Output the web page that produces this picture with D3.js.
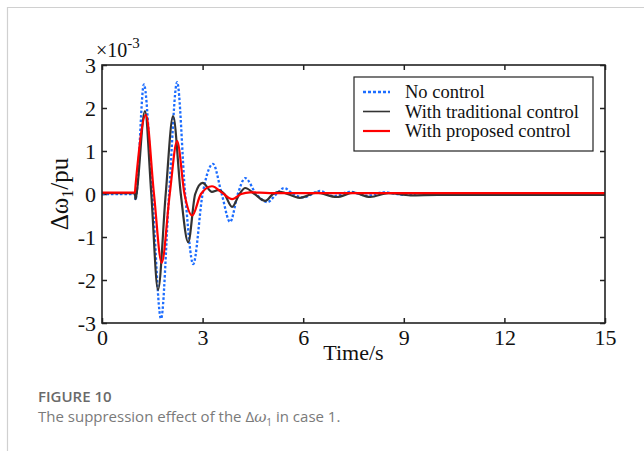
<!DOCTYPE html>
<html lang="en">
<head>
  <meta charset="UTF-8">
  <title>Figure 10</title>
  <script src="https://d3js.org/d3.v7.min.js"></script>
  <style>
    body { margin: 0; background: #fff; }
    .axis line { stroke: #222; stroke-width: 1.5; }
    .axis .domain { stroke: none; }
    .axis text { font-family: "Liberation Serif", serif; font-size: 22px; fill: #111; }
  </style>
</head>
<body>
  <svg id="chart" width="644" height="451"></svg>

  <script>
    // values are in units of 1e-3 pu
    const xTicks = [0, 3, 6, 9, 12, 15];
    const yTicks = [-3, -2, -1, 0, 1, 2, 3];
    const seriesNames = ["No control", "With traditional control", "With proposed control"];

    const noControl = [
      [0, 0], [0.98, 0], [1.0, -0.14], [1.03, 0], [1.25, 2.55], [1.5, 0], [1.76, -2.9],
      [2.0, 0], [2.24, 2.6], [2.48, 0], [2.72, -1.63], [3.0, 0], [3.31, 0.7], [3.57, 0],
      [3.82, -0.65], [4.05, 0], [4.27, 0.37], [4.6, 0], [4.93, -0.19], [5.2, 0], [5.43, 0.14],
      [5.7, 0], [6.0, -0.08], [6.5, 0.07], [6.9, -0.05], [7.4, 0.05], [7.9, -0.04], [8.4, 0.04],
      [9.0, -0.02], [9.5, 0.02], [10.5, -0.01], [11.3, 0.02], [12.0, -0.01], [12.8, 0.02],
      [13.5, -0.01], [14.2, 0.02], [15, 0]
    ];
    const traditional = [
      [0, 0.02], [0.98, 0.02], [1.0, -0.12], [1.03, 0], [1.28, 1.93], [1.47, 0], [1.67, -2.23],
      [1.9, 0], [2.12, 1.81], [2.35, 0], [2.57, -1.12], [2.78, 0], [3.0, 0.26], [3.28, 0.05],
      [3.46, 0.09], [3.65, 0], [3.88, -0.3], [4.1, 0], [4.27, 0.14], [4.55, 0], [4.87, -0.16],
      [5.1, 0], [5.3, 0.05], [5.9, -0.09], [6.4, 0.03], [7.0, -0.07], [7.5, 0.03], [8.0, -0.07],
      [8.54, 0.02], [9.2, -0.03], [10, -0.02], [15, -0.02]
    ];
    const proposed = [
      [0, 0.03], [0.98, 0.03], [1.0, 0.2], [1.31, 1.84], [1.55, 0], [1.78, -1.6], [2.02, 0],
      [2.24, 1.23], [2.46, 0], [2.69, -0.5], [2.95, 0], [3.28, 0.18], [3.6, 0.02], [3.88, -0.12],
      [4.15, 0], [4.42, 0.04], [5, 0.02], [15, 0.02]
    ];

    const svg = d3.select("#chart");
    const plotL = 102, plotR = 605, plotT = 65, plotB = 323;

    const xScale = d3.scaleLinear().domain([0, 15]).range([plotL, plotR]);
    const yScale = d3.scaleLinear().domain([-3, 3]).range([plotB, plotT]);

    // outer page frame (light grey)
    svg.append("path")
      .attr("d", "M7.5,451 L7.5,7.5 L644,7.5")
      .attr("fill", "none")
      .attr("stroke", "#d0d0d0")
      .attr("stroke-width", 1.2);

    svg.append("clipPath").attr("id", "plotClip")
      .append("rect")
      .attr("x", plotL).attr("y", plotT)
      .attr("width", plotR - plotL).attr("height", plotB - plotT);

    // axes, ticks point inward on all four sides
    svg.append("g").attr("class", "axis")
      .attr("transform", `translate(0,${plotB})`)
      .call(d3.axisBottom(xScale).tickValues(xTicks).tickSizeInner(-5).tickSizeOuter(0)
        .tickPadding(6).tickFormat(d => String(d)));
    svg.append("g").attr("class", "axis")
      .attr("transform", `translate(0,${plotT})`)
      .call(d3.axisTop(xScale).tickValues(xTicks).tickSizeInner(-5).tickSizeOuter(0).tickFormat(""));
    svg.append("g").attr("class", "axis")
      .attr("transform", `translate(${plotL},0)`)
      .call(d3.axisLeft(yScale).tickValues(yTicks).tickSizeInner(-5).tickSizeOuter(0)
        .tickPadding(6).tickFormat(d => String(d)));
    svg.append("g").attr("class", "axis")
      .attr("transform", `translate(${plotR},0)`)
      .call(d3.axisRight(yScale).tickValues(yTicks).tickSizeInner(-5).tickSizeOuter(0).tickFormat(""));

    // the lines
    const line = d3.line()
      .x(d => xScale(d[0]))
      .y(d => yScale(d[1]))
      .curve(d3.curveMonotoneX);

    const plot = svg.append("g").attr("clip-path", "url(#plotClip)");
    plot.append("path").datum(noControl)
      .attr("d", line).attr("fill", "none")
      .attr("stroke", "#1c6dff").attr("stroke-width", 2.3)
      .attr("stroke-dasharray", "2.5,2");
    plot.append("path").datum(traditional)
      .attr("d", line).attr("fill", "none")
      .attr("stroke", "#333").attr("stroke-width", 2.2);
    plot.append("path").datum(proposed)
      .attr("d", line).attr("fill", "none")
      .attr("stroke", "#f00").attr("stroke-width", 2.2);

    // plot frame
    svg.append("rect")
      .attr("x", plotL).attr("y", plotT)
      .attr("width", plotR - plotL).attr("height", plotB - plotT)
      .attr("fill", "none").attr("stroke", "#222").attr("stroke-width", 1.6);

    // exponent label
    const expo = svg.append("text")
      .attr("x", 96).attr("y", 57)
      .attr("font-family", "Liberation Serif").attr("font-size", 20).attr("fill", "#111");
    expo.append("tspan").text("\u00d710");
    expo.append("tspan").attr("dy", -9).attr("font-size", 15).text("-3");

    // axis titles
    svg.append("text")
      .attr("x", (plotL + plotR) / 2).attr("y", 360)
      .attr("text-anchor", "middle")
      .attr("font-family", "Liberation Serif").attr("font-size", 22).attr("fill", "#111")
      .text("Time/s");

    const ylab = svg.append("text")
      .attr("transform", `translate(68,${(plotT + plotB) / 2}) rotate(-90)`)
      .attr("text-anchor", "middle")
      .attr("font-family", "Liberation Serif").attr("font-size", 25).attr("fill", "#111");
    ylab.append("tspan").text("\u0394\u03c9");
    ylab.append("tspan").attr("dy", 5).attr("font-size", 16).text("1");
    ylab.append("tspan").attr("dy", -5).text("/pu");

    // legend
    const legend = svg.append("g");
    legend.append("rect")
      .attr("x", 354).attr("y", 77).attr("width", 239).attr("height", 74)
      .attr("fill", "#fff").attr("stroke", "#222").attr("stroke-width", 1.2);
    const legendStyles = [
      { color: "#1c6dff", dash: "3,2", width: 2.3 },
      { color: "#333", dash: null, width: 1.6 },
      { color: "#f00", dash: null, width: 2.2 }
    ];
    seriesNames.forEach((name, i) => {
      const yy = 92 + i * 19.5;
      legend.append("line")
        .attr("x1", 363).attr("x2", 390).attr("y1", yy).attr("y2", yy)
        .attr("stroke", legendStyles[i].color)
        .attr("stroke-width", legendStyles[i].width)
        .attr("stroke-dasharray", legendStyles[i].dash);
      legend.append("text")
        .attr("x", 405).attr("y", yy + 6)
        .attr("font-family", "Liberation Serif").attr("font-size", 18.5).attr("fill", "#111")
        .text(name);
    });

    // caption
    svg.append("text")
      .attr("x", 38).attr("y", 402)
      .attr("font-family", "Open Sans").attr("font-weight", 600)
      .attr("font-size", 15).attr("fill", "#6a6a6a")
      .text("FIGURE 10");
    const cap = svg.append("text")
      .attr("x", 38).attr("y", 422)
      .attr("font-family", "Open Sans").attr("font-size", 15).attr("fill", "#7a7a7a");
    cap.append("tspan").text("The suppression effect of the \u0394");
    cap.append("tspan").attr("font-style", "italic").attr("font-family", "DejaVu Serif").text("\u03c9");
    cap.append("tspan").attr("dy", 4).attr("font-size", 10).text("1");
    cap.append("tspan").attr("dy", -4).text(" in case 1.");
  </script>
</body>
</html>
